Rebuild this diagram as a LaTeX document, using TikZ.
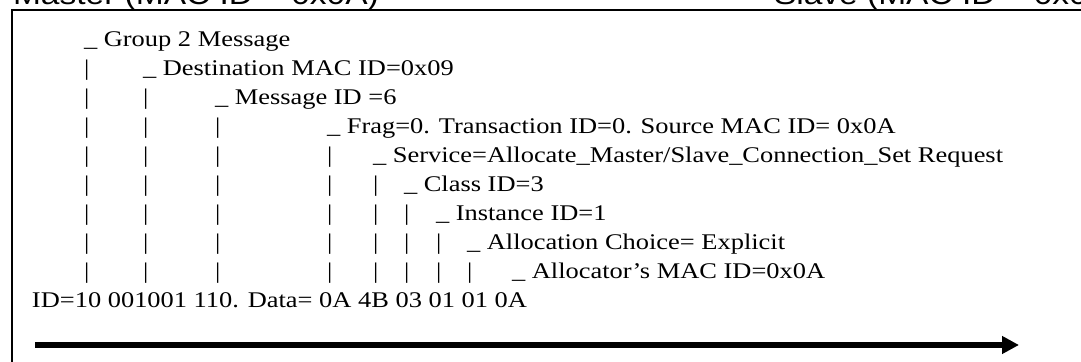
\documentclass[tikz,border=0pt]{standalone}
\usepackage{fontspec}
\setmainfont{Liberation Serif}[FakeStretch=1.18]
\setsansfont{Liberation Sans}[FakeStretch=1.18]
\usetikzlibrary{arrows.meta}

\begin{document}
\begin{tikzpicture}[x=0.5pt, y=-0.5pt,
  every node/.style={inner sep=0pt, outer sep=0pt, anchor=base west},
  field/.style={font=\fontsize{11.2}{13}\selectfont},
  header/.style={font=\sffamily\fontsize{14.2}{16}\selectfont},
  frame/.style={line width=1pt},
  flow/.style={line width=3pt, -{Triangle[length=8.5pt, width=8.5pt]}}]
\useasboundingbox (0,0) rectangle (1081,362);
\clip (0,0) rectangle (1081,362);
\draw[frame] (11.5,10) rectangle (1120,420);
\node[header] (master) at (13,5) {Master (MAC ID = 0x0A)};
\node[header] (slave) at (774,5) {Slave (MAC ID = 0x09)};
% decoded fields, one per line
\node[field] (F1) at (84,47) {\_ Group 2 Message};
\node[field] (F2) at (143,76) {\_ Destination MAC ID=0x09};
\node[field] (F3) at (215,105) {\_ Message ID =6};
\node[field] (F4) at (327,134) {\_ Frag=0. Transaction ID=0. Source MAC ID= 0x0A};
\node[field] (F5) at (373,163) {\_ Service=Allocate\_Master/Slave\_Connection\_Set Request};
\node[field] (F6) at (404,192) {\_ Class ID=3};
\node[field] (F7) at (436,221) {\_ Instance ID=1};
\node[field] (F8) at (467,250) {\_ Allocation Choice= Explicit};
\node[field] (F9) at (512,279) {\_ Allocator’s MAC ID=0x0A};
\node[field] (raw) at (32,308) {ID=10 001001 110. Data= 0A 4B 03 01 01 0A};
% guide bars below each field
\foreach \j in {1,...,8}
  \foreach \r in {\j,...,8}
    \path (F\j.base west) ++(0,{29*(\r-\j+1)}) node[field] (bar\j-\r) {|};
\coordinate (start) at (35,345);
\coordinate (stop) at (1019,345);
\draw[flow] (start) -- (stop);
\end{tikzpicture}
\end{document}
